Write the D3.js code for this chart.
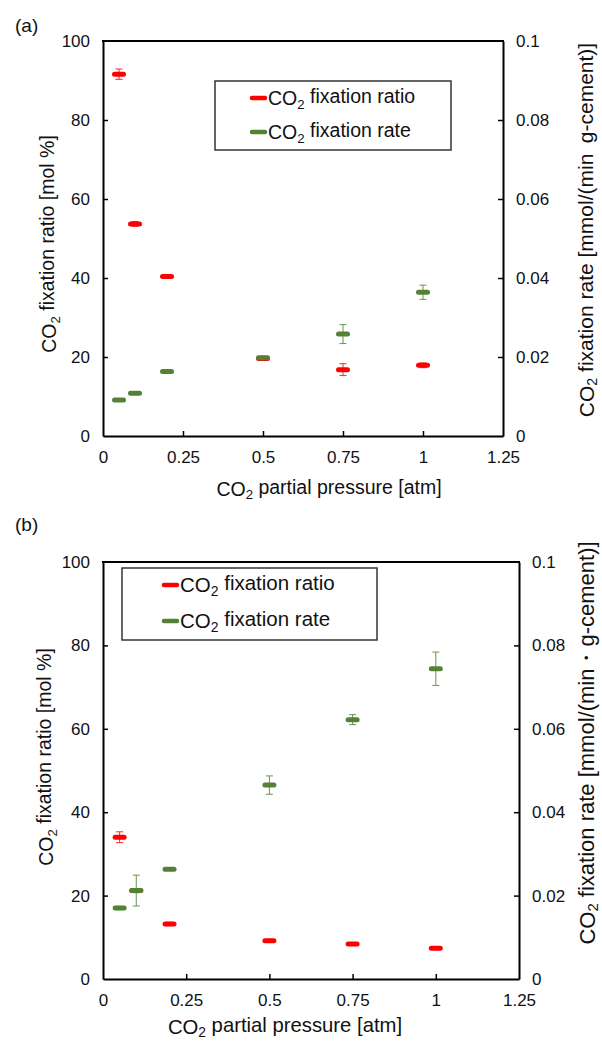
<!DOCTYPE html>
<html>
<head>
<meta charset="utf-8">
<script src="https://cdn.jsdelivr.net/npm/d3@7"></script>
<style>
  body { margin: 0; background: #fff; }
  svg { display: block; font-family: "Liberation Sans", Arial, sans-serif; }
</style>
</head>
<body>
<svg id="chart" width="602" height="1042"></svg>
<script>
'use strict';

// partial pressure [atm]
var pressure = [0.05, 0.1, 0.2, 0.5, 0.75, 1.0];

// panel (a)
var ratioA = [91.6, 53.7, 40.4, 19.6, 16.8, 17.9];
var ratioErrA = [1.3, 0.6, 0.5, 0.4, 1.5, 0.6];
var rateA = [0.0091, 0.0108, 0.0163, 0.0198, 0.0258, 0.0364];
var rateErrA = [0.0003, 0.0003, 0.0003, 0.0004, 0.0024, 0.0018];

// panel (b)
var ratioB = [34.0, 21.2, 13.2, 9.2, 8.4, 7.4];
var ratioErrB = [1.3, 0.5, 0.4, 0.3, 0.3, 0.3];
var rateB = [0.0170, 0.0212, 0.0263, 0.0465, 0.0622, 0.0744];
var rateErrB = [0.0004, 0.0037, 0.0003, 0.0022, 0.0012, 0.0040];

var xTicks = [0, 0.25, 0.5, 0.75, 1, 1.25];
var ratioTicks = [0, 20, 40, 60, 80, 100];
var rateTicks = [0, 0.02, 0.04, 0.06, 0.08, 0.1];

var red = '#ff0000',
  green = '#538135',
  tickFont = 17;

var svg = d3.select('#chart');

// CO2 label with subscript, then the rest
function co2Text(sel, rest, sub) {
  sub = sub || 0.3;
  sel.append('tspan').text('CO');
  sel.append('tspan').attr('font-size', '0.68em').attr('dy', sub + 'em').text('2');
  sel.append('tspan').attr('dy', (-sub) + 'em').text(rest);
}

function drawPanel(p) {
  var g = svg.append('g');

  var x = d3.scaleLinear().domain([0, 1.25]).range([p.left, p.right]);
  var yL = d3.scaleLinear().domain([0, 100]).range([p.bottom, p.top]);
  var yR = d3.scaleLinear().domain([0, 0.1]).range([p.bottom, p.top]);

  var fmt = function(d) { return String(d); };

  var ax = g.append('g').attr('transform', 'translate(0,' + p.bottom + ')')
    .call(d3.axisBottom(x).tickValues(xTicks).tickFormat(fmt).tickSizeInner(-5).tickSizeOuter(0).tickPadding(15));
  var al = g.append('g').attr('transform', 'translate(' + p.left + ',0)')
    .call(d3.axisLeft(yL).tickValues(ratioTicks).tickFormat(fmt).tickSizeInner(-5).tickSizeOuter(0).tickPadding(13));
  var ar = g.append('g').attr('transform', 'translate(' + p.right + ',0)')
    .call(d3.axisRight(yR).tickValues(rateTicks).tickFormat(fmt).tickSizeInner(-5).tickSizeOuter(0).tickPadding(13));

  [ax, al, ar].forEach(function(a) {
    a.selectAll('.domain').attr('stroke', '#000').attr('stroke-width', 2);
    a.selectAll('.tick line').attr('stroke', '#000').attr('stroke-width', 1.5);
    a.selectAll('.tick text').attr('font-size', tickFont).attr('fill', '#111')
      .attr('font-family', '"Liberation Sans", Arial, sans-serif');
  });
  // no tick marks at the frame corners
  ax.selectAll('.tick').filter(function(d) { return d === 0 || d === 1.25; }).select('line').remove();
  al.selectAll('.tick').filter(function(d) { return d === 0 || d === 100; }).select('line').remove();
  ar.selectAll('.tick').filter(function(d) { return d === 0 || d === 0.1; }).select('line').remove();

  g.append('line').attr('x1', p.left - 1).attr('x2', p.right + 1)
    .attr('y1', p.top).attr('y2', p.top)
    .attr('stroke', '#000').attr('stroke-width', 2);

  // series
  function series(vals, errs, yScale, color) {
    var s = g.append('g');
    var pts = pressure.map(function(d, i) { return {x: d, v: vals[i], e: errs[i]}; });
    var eb = s.selectAll('g.err').data(pts).enter().append('g')
      .attr('stroke', color).attr('stroke-width', 1).attr('opacity', 0.85);
    eb.append('line')
      .attr('x1', function(d) { return x(d.x); }).attr('x2', function(d) { return x(d.x); })
      .attr('y1', function(d) { return yScale(d.v - d.e); }).attr('y2', function(d) { return yScale(d.v + d.e); });
    eb.append('line')
      .attr('x1', function(d) { return x(d.x) - 3.5; }).attr('x2', function(d) { return x(d.x) + 3.5; })
      .attr('y1', function(d) { return yScale(d.v - d.e); }).attr('y2', function(d) { return yScale(d.v - d.e); });
    eb.append('line')
      .attr('x1', function(d) { return x(d.x) - 3.5; }).attr('x2', function(d) { return x(d.x) + 3.5; })
      .attr('y1', function(d) { return yScale(d.v + d.e); }).attr('y2', function(d) { return yScale(d.v + d.e); });
    s.selectAll('rect').data(pts).enter().append('rect')
      .attr('x', function(d) { return x(d.x) - 7; })
      .attr('y', function(d) { return yScale(d.v) - 2.5; })
      .attr('width', 14).attr('height', 5).attr('rx', 2.5)
      .attr('fill', color);
  }
  series(p.ratio, p.ratioErr, yL, red);
  series(p.rate, p.rateErr, yR, green);

  // axis titles
  var xt = g.append('text').attr('x', p.xTitleX).attr('y', p.xTitleY)
    .attr('text-anchor', 'middle').attr('font-size', p.xTitleFont).attr('fill', '#111');
  co2Text(xt, ' partial pressure [atm]', 0.25);

  var lt = g.append('text')
    .attr('transform', 'translate(' + p.leftTitleX + ',' + p.leftTitleY + ') rotate(-90)')
    .attr('text-anchor', 'middle').attr('font-size', 19.5).attr('fill', '#111');
  co2Text(lt, ' fixation ratio [mol %]');

  var rt = g.append('text')
    .attr('transform', 'translate(' + p.rightTitleX + ',' + p.rightTitleY + ') rotate(-90)')
    .attr('text-anchor', 'middle').attr('font-size', p.rightTitleFont).attr('fill', '#111');
  co2Text(rt, p.rightTitle, 0.2);

  // panel label
  g.append('text').attr('x', 15).attr('y', p.labelY)
    .attr('font-size', 19).attr('fill', '#111').text(p.label);

  // legend
  var L = p.legend;
  g.append('rect').attr('x', L.x).attr('y', L.y).attr('width', L.w).attr('height', L.h)
    .attr('fill', '#fff').attr('stroke', '#333').attr('stroke-width', 1.5);
  [{c: red, t: ' fixation ratio'}, {c: green, t: ' fixation rate'}].forEach(function(it, i) {
    var yy = L.y + L.row0 + i * L.gap;
    g.append('line').attr('x1', L.sx).attr('x2', L.sx + 13).attr('y1', yy).attr('y2', yy)
      .attr('stroke', it.c).attr('stroke-width', 4.5).attr('stroke-linecap', 'round');
    var tt = g.append('text').attr('x', L.sx + 16).attr('y', yy + 7)
      .attr('font-size', L.font).attr('fill', '#111');
    co2Text(tt, it.t);
  });
}

drawPanel({
  label: '(a)', labelY: 32,
  left: 103, right: 503, top: 41, bottom: 436,
  ratio: ratioA, ratioErr: ratioErrA, rate: rateA, rateErr: rateErrA,
  xTitleX: 329, xTitleY: 496, xTitleFont: 19.5,
  leftTitleX: 56, leftTitleY: 244,
  rightTitleX: 594, rightTitleY: 230, rightTitleFont: 21,
  rightTitle: ' fixation rate [mmol/(min\u2002g-cement)]',
  legend: {x: 215, y: 81, w: 236, h: 69, row0: 17, gap: 34, sx: 252, font: 19.5}
});

drawPanel({
  label: '(b)', labelY: 531,
  left: 103, right: 519, top: 562, bottom: 979,
  ratio: ratioB, ratioErr: ratioErrB, rate: rateB, rateErr: rateErrB,
  xTitleX: 285, xTitleY: 1034, xTitleFont: 20.3,
  leftTitleX: 53, leftTitleY: 757,
  rightTitleX: 595, rightTitleY: 743, rightTitleFont: 22,
  rightTitle: ' fixation rate [mmol/(min\u30FBg-cement)]',
  legend: {x: 122, y: 568, w: 255, h: 72, row0: 17, gap: 36, sx: 164, font: 20.5}
});
</script>
</body>
</html>
